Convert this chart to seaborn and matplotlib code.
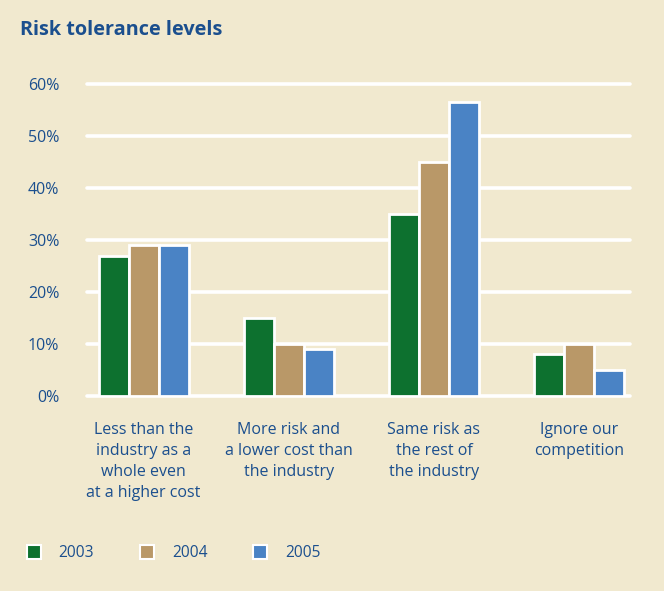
import matplotlib
matplotlib.use("Agg")
import matplotlib.pyplot as plt
from matplotlib.lines import Line2D
import seaborn as sns
import pandas as pd

categories = [
    "Less than the\nindustry as a\nwhole even\nat a higher cost",
    "More risk and\na lower cost than\nthe industry",
    "Same risk as\nthe rest of\nthe industry",
    "Ignore our\ncompetition",
]
years = ["2003", "2004", "2005"]
values_2003 = [27, 15, 35, 8]
values_2004 = [29, 10, 45, 10]
values_2005 = [29, 9, 56.5, 5]
y_ticks = [0, 10, 20, 30, 40, 50, 60]

bg = "#F1E9CF"
text_blue = "#1B4F8E"
palette = {"2003": "#0D712F", "2004": "#B99868", "2005": "#4A83C5"}

df = pd.DataFrame({
    "category": categories * 3,
    "year": [y for y in years for _ in categories],
    "value": values_2003 + values_2004 + values_2005,
})

sns.set_theme(style="white")
plt.rcParams["font.family"] = ["Open Sans", "DejaVu Sans"]

fig = plt.figure(figsize=(6.64, 5.91), dpi=100, facecolor=bg)
ax = fig.add_axes([87 / 664, 1 - 396 / 591, 543 / 664, 312 / 591])
ax.set_facecolor(bg)

sns.barplot(data=df, x="category", y="value", hue="year", order=categories,
            hue_order=years, palette=palette, width=0.62, saturation=1,
            edgecolor="white", linewidth=2, ax=ax, legend=False, zorder=3)

ax.set_ylim(0, 60)
ax.set_xlim(-0.39, 3.35)
ax.set_yticks(y_ticks)
ax.set_yticklabels([f"{t}%" for t in y_ticks])
for t in y_ticks:
    ax.axhline(t, color="white", lw=2.6, zorder=1, clip_on=False)
for s in ax.spines.values():
    s.set_visible(False)
ax.set_xlabel("")
ax.set_ylabel("")
ax.tick_params(axis="y", length=0, pad=20, labelsize=11.5, labelcolor=text_blue)
ax.tick_params(axis="x", length=0, pad=19, labelsize=11.5, labelcolor=text_blue)
for lbl in ax.get_xticklabels():
    lbl.set_linespacing(1.4)
    lbl.set_verticalalignment("top")
for lbl in ax.get_yticklabels():
    lbl.set_verticalalignment("center_baseline")

fig.text(20 / 664, 1 - 30 / 591, "Risk tolerance levels", fontsize=14.3,
         fontweight="bold", color=text_blue, va="center", ha="left")

handles = [Line2D([], [], marker="s", linestyle="none", markersize=10,
                  markerfacecolor=palette[y], markeredgecolor="white",
                  markeredgewidth=1.5) for y in years]
leg = fig.legend(handles, years, loc="center left",
                 bbox_to_anchor=(12 / 664, 1 - 553 / 591), ncol=3,
                 frameon=False, handlelength=1.0, handletextpad=1.1,
                 columnspacing=2.9, fontsize=11.2)
for t in leg.get_texts():
    t.set_color(text_blue)

fig.savefig("out.png", dpi=100, facecolor=bg)
